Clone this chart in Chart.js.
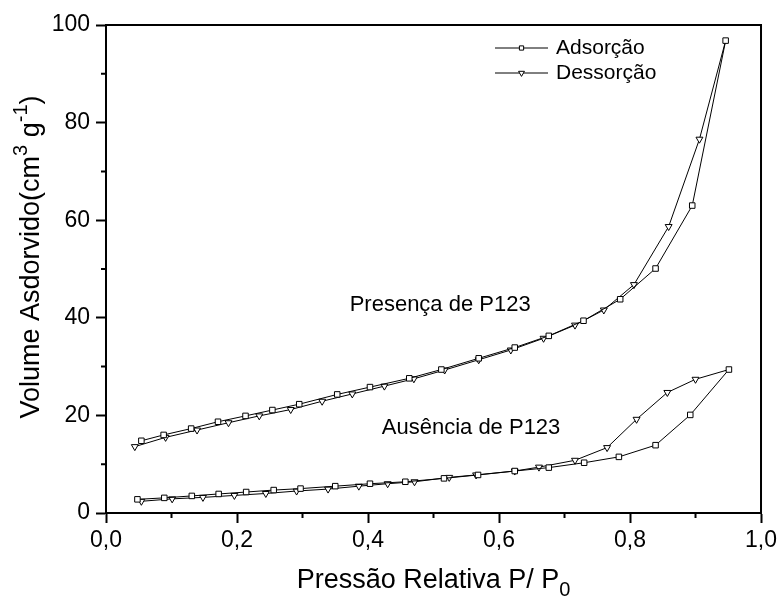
<!DOCTYPE html>
<html>
<head>
<meta charset="utf-8">
<script src="https://cdn.jsdelivr.net/npm/chart.js@4/dist/chart.umd.min.js"></script>
<style>
  html, body { margin: 0; padding: 0; background: #fff; }
</style>
</head>
<body>
<canvas id="chart" width="781" height="597"></canvas>
<script>
// values (P/P0, cm3/g)
const presAdsX = [0.054, 0.088, 0.130, 0.171, 0.213, 0.254, 0.295, 0.353, 0.403, 0.463, 0.512, 0.569, 0.624, 0.676, 0.729, 0.785, 0.839, 0.895, 0.946];
const presAdsY = [14.8, 16.0, 17.3, 18.7, 19.9, 21.1, 22.3, 24.3, 25.8, 27.6, 29.4, 31.7, 33.9, 36.3, 39.4, 43.8, 50.1, 63.0, 96.8];

const presDesX = [0.946, 0.906, 0.859, 0.806, 0.760, 0.716, 0.668, 0.618, 0.569, 0.517, 0.470, 0.425, 0.376, 0.330, 0.282, 0.234, 0.187, 0.139, 0.091, 0.044];
const presDesY = [96.8, 76.6, 58.7, 46.8, 41.6, 38.5, 35.8, 33.4, 31.4, 29.3, 27.5, 26.0, 24.4, 22.9, 21.2, 19.9, 18.5, 17.0, 15.5, 13.6];

const ausAdsX = [0.048, 0.089, 0.131, 0.172, 0.214, 0.256, 0.297, 0.350, 0.403, 0.457, 0.516, 0.568, 0.624, 0.676, 0.730, 0.783, 0.839, 0.892, 0.951];
const ausAdsY = [2.8, 3.1, 3.5, 3.9, 4.3, 4.7, 5.0, 5.5, 6.0, 6.4, 7.1, 7.8, 8.6, 9.3, 10.3, 11.5, 13.9, 20.1, 29.4];

const ausDesX = [0.951, 0.900, 0.857, 0.810, 0.765, 0.716, 0.661, 0.624, 0.565, 0.524, 0.471, 0.430, 0.386, 0.339, 0.291, 0.244, 0.196, 0.148, 0.101, 0.054];
const ausDesY = [29.4, 27.4, 24.7, 19.2, 13.4, 10.8, 9.4, 8.6, 7.8, 7.3, 6.4, 6.0, 5.5, 4.9, 4.5, 4.0, 3.6, 3.2, 2.9, 2.4];

const seriesNames = ['Adsorção', 'Dessorção'];
const curveNames = ['Presença de P123', 'Ausência de P123'];
const curveLabelAt = [[0.372, 42.6], [0.421, 17.4]];

const xTickValues = [0, 0.2, 0.4, 0.6, 0.8, 1.0];
const xTickLabels = ['0,0', '0,2', '0,4', '0,6', '0,8', '1,0'];
const xMinorTicks = [0.1, 0.3, 0.5, 0.7, 0.9];
const yTickValues = [0, 20, 40, 60, 80, 100];
const yTickLabels = ['0', '20', '40', '60', '80', '100'];
const yMinorTicks = [10, 30, 50, 70, 90];

const FONT = "'Liberation Sans', Arial, Helvetica, sans-serif";

function pts(xs, ys) {
  return xs.map((x, i) => ({ x: x, y: ys[i] }));
}

function series(label, xs, ys, style, order) {
  const down = style === 'triangle';
  return {
    label: label,
    data: pts(xs, ys),
    showLine: true,
    borderColor: '#000',
    borderWidth: 1,
    backgroundColor: '#fff',
    pointStyle: style,
    pointRotation: down ? 180 : 0,
    // desorption branch starts on the last adsorption point, no marker there
    pointRadius: c => (down && c.dataIndex === 0) ? 0 : (down ? 4 : 3.9),
    pointBorderColor: '#000',
    pointBackgroundColor: '#fff',
    pointBorderWidth: 1,
    tension: 0,
    order: order
  };
}

// frame, minor ticks, axis titles, curve labels, legend
const extras = {
  id: 'extras',
  afterDraw(chart) {
    const ctx = chart.ctx;
    const a = chart.chartArea;
    const xs = chart.scales.x, ys = chart.scales.y;
    ctx.save();
    ctx.strokeStyle = '#000';
    ctx.lineWidth = 2;
    ctx.beginPath();
    ctx.moveTo(a.left, a.top);
    ctx.lineTo(a.right, a.top);
    ctx.lineTo(a.right, a.bottom);
    ctx.stroke();

    ctx.beginPath();
    xMinorTicks.forEach(v => {
      const p = xs.getPixelForValue(v);
      ctx.moveTo(p, a.bottom);
      ctx.lineTo(p, a.bottom + 5);
    });
    yMinorTicks.forEach(v => {
      const p = ys.getPixelForValue(v);
      ctx.moveTo(a.left, p);
      ctx.lineTo(a.left - 5, p);
    });
    ctx.stroke();

    ctx.fillStyle = '#000';
    ctx.textBaseline = 'middle';
    ctx.textAlign = 'left';
    ctx.font = '22px ' + FONT;
    curveNames.forEach((t, i) => {
      ctx.fillText(t, xs.getPixelForValue(curveLabelAt[i][0]), ys.getPixelForValue(curveLabelAt[i][1]));
    });

    // legend with line + marker
    const legendRows = [{ style: 'rect', rot: 0, r: 3 }, { style: 'triangle', rot: 180, r: 3.4 }];
    ctx.font = '21px ' + FONT;
    seriesNames.forEach((t, i) => {
      const y = 48 + i * 25;
      const x0 = a.right - 266, x1 = a.right - 213;
      ctx.lineWidth = 1;
      ctx.beginPath();
      ctx.moveTo(x0, y);
      ctx.lineTo(x1, y);
      ctx.stroke();
      ctx.fillStyle = '#fff';
      Chart.helpers.drawPoint(ctx, { pointStyle: legendRows[i].style, rotation: legendRows[i].rot, radius: legendRows[i].r, borderWidth: 1 }, (x0 + x1) / 2, y);
      ctx.fillStyle = '#000';
      ctx.fillText(t, a.right - 205, y);
    });

    // axis titles with super/subscripts
    ctx.textBaseline = 'alphabetic';
    const big = 27, small = 20;
    function runs(parts) {
      let w = 0;
      parts.forEach(p => {
        ctx.font = (p.s ? small : big) + 'px ' + FONT;
        p.w = ctx.measureText(p.t).width;
        w += p.w;
      });
      return w;
    }
    function drawRuns(parts, x, y) {
      parts.forEach(p => {
        ctx.font = (p.s ? small : big) + 'px ' + FONT;
        ctx.fillText(p.t, x, y + (p.s || 0));
        x += p.w;
      });
    }
    const xt = [{ t: 'Pressão Relativa P/ P' }, { t: '0', s: 8 }];
    const xw = runs(xt);
    drawRuns(xt, (a.left + a.right) / 2 - xw / 2, 588);

    const yt = [{ t: 'Volume Asdorvido(cm' }, { t: '3', s: -12 }, { t: ' g' }, { t: '-1', s: -12 }, { t: ')' }];
    const yw = runs(yt);
    ctx.translate(39, 257);
    ctx.rotate(-Math.PI / 2);
    drawRuns(yt, -yw / 2, 0);
    ctx.restore();
  }
};

const tickFont = { family: FONT, size: 23 };

new Chart(document.getElementById('chart'), {
  type: 'scatter',
  data: {
    datasets: [
      series(seriesNames[0], presAdsX, presAdsY, 'rect', 1),
      series(seriesNames[1], presDesX, presDesY, 'triangle', 2),
      series(seriesNames[0], ausAdsX, ausAdsY, 'rect', 1),
      series(seriesNames[1], ausDesX, ausDesY, 'triangle', 2)
    ]
  },
  options: {
    responsive: false,
    animation: false,
    devicePixelRatio: 1,
    layout: { padding: { left: 0, top: 25, right: 19, bottom: 0 } },
    plugins: {
      legend: { display: false },
      tooltip: { enabled: false }
    },
    scales: {
      x: {
        type: 'linear',
        min: 0,
        max: 1,
        afterBuildTicks: s => { s.ticks = xTickValues.map(v => ({ value: v })); },
        afterFit: s => { s.height = 84; },
        ticks: {
          callback: (v, i) => xTickLabels[i],
          font: tickFont,
          color: '#000',
          padding: 4,
          maxRotation: 0,
          autoSkip: false
        },
        grid: { drawOnChartArea: false, drawTicks: true, tickLength: 10, tickWidth: 2, tickColor: '#000' },
        border: { display: true, color: '#000', width: 2 }
      },
      y: {
        type: 'linear',
        min: 0,
        max: 100,
        afterBuildTicks: s => { s.ticks = yTickValues.map(v => ({ value: v })); },
        afterFit: s => { s.width = 106; },
        ticks: {
          callback: (v, i) => yTickLabels[i],
          font: tickFont,
          color: '#000',
          padding: 6,
          autoSkip: false
        },
        grid: { drawOnChartArea: false, drawTicks: true, tickLength: 10, tickWidth: 2, tickColor: '#000' },
        border: { display: true, color: '#000', width: 2 }
      }
    }
  },
  plugins: [extras]
});
</script>
</body>
</html>
